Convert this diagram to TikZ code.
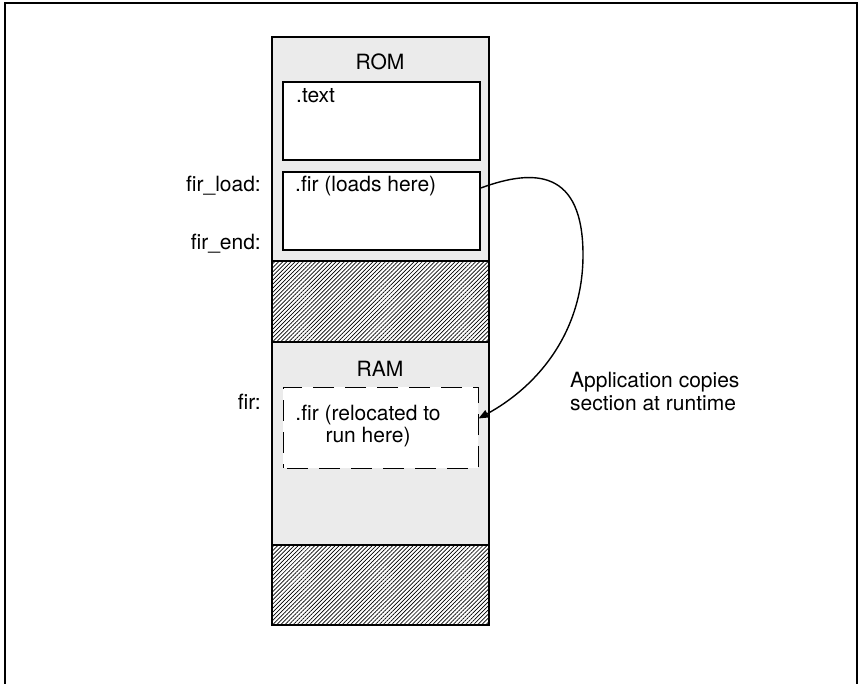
\documentclass[tikz,border=0pt]{standalone}
\usepackage{fontspec}
\setmainfont{TeX Gyre Heros}
\usetikzlibrary{patterns.meta,arrows.meta}

\begin{document}
\begin{tikzpicture}[x=1pt,y=-1pt]
 \tikzstyle{secbox}=[rectangle, draw, line width=1.6pt, fill=white, inner sep=0pt, minimum width=197pt]
 \tikzstyle{runbox}=[rectangle, draw, line width=1pt, dash pattern=on 21pt off 11pt, dash phase=-4pt, fill=white, inner sep=0pt, minimum width=195pt, minimum height=81pt]
 \tikzstyle{txt}=[inner sep=0pt, font=\fontsize{21}{22}\selectfont]
 \tikzstyle{stip}=[fill=black!8]
 \tikzstyle{hatch}=[pattern={Lines[angle=45, distance=2.9pt, line width=0.7pt]}]
\useasboundingbox (0,0) rectangle (859,684);
\draw[line width=1.6pt] (5,684) -- (5,3) -- (857,3) -- (857,684);
% memory column
\fill[stip] (272,37) rectangle (489,261);
\fill[hatch] (272,261) rectangle (489,342);
\fill[stip] (272,342) rectangle (489,545);
\fill[hatch] (272,545) rectangle (489,625);
\draw[line width=1.3pt] (272,261) -- (489,261);
\draw[line width=1.3pt] (272,342) -- (489,342);
\draw[line width=1.3pt] (272,545) -- (489,545);
\draw[line width=2pt] (272,37) rectangle (489,625);
% sections
\draw (381.5,121) node[secbox, minimum height=78pt] (textsec) {};
\draw (381.5,211) node[secbox, minimum height=78pt] (firsec) {};
\draw (380.5,427.5) node[runbox] (runsec) {};
\draw (380,70) node[txt, anchor=base] (rom) {ROM};
\draw (296,103) node[txt, anchor=base west] (textlbl) {.text};
\draw (295,192) node[txt, anchor=base west] (loadlbl) {.fir (loads here)};
\draw (380,377) node[txt, anchor=base] (ram) {RAM};
\draw (368,426) node[txt, align=center] (runlbl) {.fir (relocated to\\run here)};
\draw (261,192) node[txt, anchor=base east] (firload) {fir\_load:};
\draw (261,250) node[txt, anchor=base east] (firend) {fir\_end:};
\draw (261,409) node[txt, anchor=base east] (fir) {fir:};
\draw (570,388) node[txt, anchor=base west] (copynote) {Application copies};
\draw (570,410) node[txt, anchor=base west] (copynote2) {section at runtime};
\coordinate (bend) at (583,255);
\draw[line width=1.4pt, -{Triangle[length=10pt, width=8pt]}] ([yshift=23pt]firsec.east) .. controls (535,168) and (583,170) .. (bend) .. controls (583,330) and (540,385) .. ([yshift=9pt]runsec.east);
\end{tikzpicture}
\end{document}
